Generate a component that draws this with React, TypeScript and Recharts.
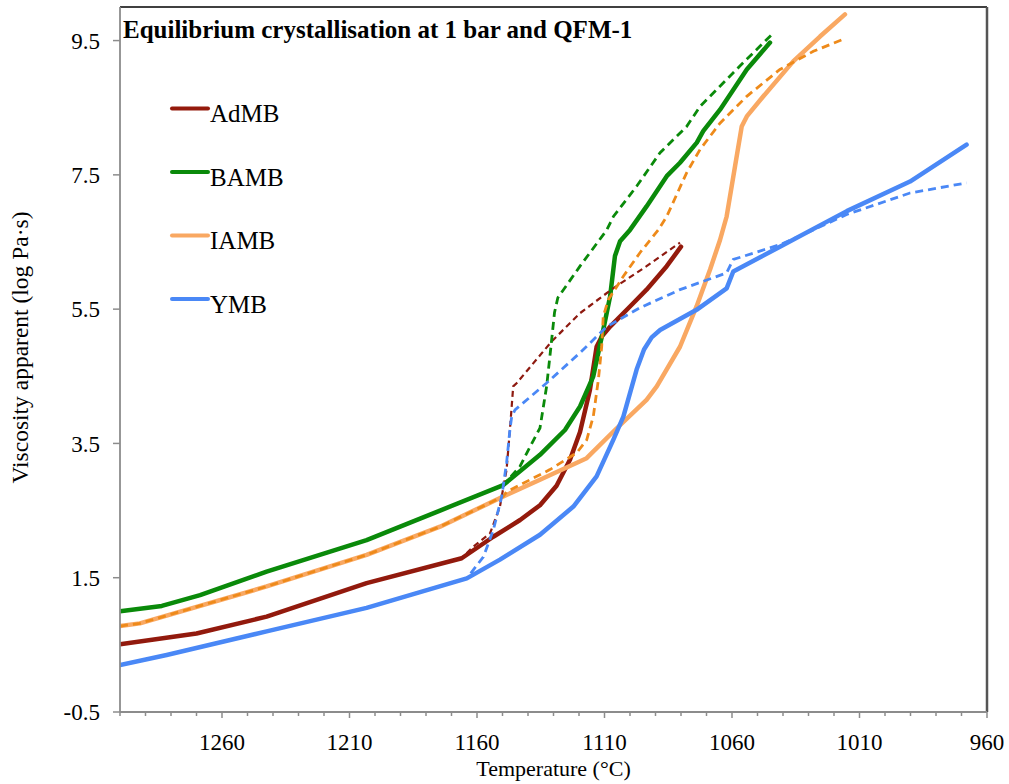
import React from "react";
import { LineChart, Line, XAxis, YAxis, ReferenceLine, Legend } from "recharts";

const FONT = "'Liberation Serif', 'Times New Roman', Times, serif";

type Pt = [number, number];

// [temperature °C, log apparent viscosity (Pa·s)] — solid = crystal-bearing melt
const admbSolid: Pt[] = [
  [1300, 0.51], [1270, 0.67], [1242.5, 0.92], [1203.3, 1.42], [1166, 1.79], [1153.6, 2.11],
  [1143.1, 2.36], [1135.3, 2.58], [1128.8, 2.87], [1123.5, 3.26], [1119.6, 3.67], [1115.7, 4.3],
  [1113.1, 4.94], [1111.1, 5.09], [1107.8, 5.24], [1100, 5.54], [1093.5, 5.79], [1085.6, 6.14],
  [1080, 6.43],
];
const admbDashed: Pt[] = [
  [1300, 0.51], [1270, 0.67], [1242.5, 0.92], [1203.3, 1.42], [1166, 1.79], [1161.5, 1.96],
  [1154.9, 2.16], [1151, 2.56], [1148.4, 3.11], [1147.1, 3.7], [1145.8, 4.35], [1144.4, 4.4],
  [1130.7, 5.02], [1119.6, 5.44], [1106.6, 5.81], [1093.5, 6.14], [1080.4, 6.49],
];

const bambSolid: Pt[] = [
  [1300, 1.0], [1283.6, 1.08], [1268.6, 1.24], [1242.5, 1.59], [1203.3, 2.06], [1174.5, 2.5],
  [1149.7, 2.88], [1135.3, 3.33], [1125.5, 3.7], [1119.6, 4.05], [1114.4, 4.5], [1110.5, 5.19],
  [1107.8, 5.69], [1105.9, 6.29], [1103.9, 6.51], [1100, 6.68], [1093.5, 7.03], [1085.6, 7.48],
  [1080.4, 7.68], [1073.8, 7.98], [1071.3, 8.15], [1064.7, 8.47], [1054.2, 9.07], [1045.1, 9.47],
];
const bambDashed: Pt[] = [
  [1300, 1.0], [1283.6, 1.08], [1268.6, 1.24], [1242.5, 1.59], [1203.3, 2.06], [1174.5, 2.5],
  [1149.7, 2.88], [1143.1, 3.16], [1139.2, 3.45], [1135.3, 3.73], [1132.7, 4.35], [1131.4, 4.8],
  [1129.6, 5.45], [1128.3, 5.67], [1119.6, 6.14], [1109.1, 6.68], [1106.5, 6.88], [1097.4, 7.33],
  [1088.2, 7.83], [1077.8, 8.22], [1072.5, 8.52], [1056.9, 9.12], [1044.4, 9.59],
];

const iambSolid: Pt[] = [
  [1300, 0.78], [1292.2, 0.82], [1242.5, 1.37], [1203.3, 1.84], [1174.5, 2.26], [1149.7, 2.71],
  [1135.3, 2.96], [1117, 3.28], [1105.9, 3.7], [1093.5, 4.15], [1089.5, 4.35], [1080.4, 4.94],
  [1073.9, 5.54], [1068.6, 6.09], [1064.7, 6.53], [1062.1, 6.88], [1058.8, 7.63], [1056.2, 8.22],
  [1054.2, 8.37], [1047.7, 8.67], [1036, 9.19], [1025.5, 9.56], [1015.7, 9.89],
];
const iambDashed: Pt[] = [
  [1300, 0.78], [1292.2, 0.82], [1242.5, 1.37], [1203.3, 1.84], [1174.5, 2.26], [1149.7, 2.71],
  [1148.4, 2.78], [1131.4, 3.11], [1120.9, 3.36], [1117, 3.55], [1114.4, 3.9], [1112.4, 4.45],
  [1111.1, 4.94], [1110.5, 5.39], [1108.5, 5.64], [1102.6, 5.99], [1096.1, 6.34], [1088.9, 6.68],
  [1085.6, 6.88], [1077.8, 7.53], [1072.5, 7.88], [1064.7, 8.27], [1054.2, 8.67], [1041.2, 9.07],
  [1028.1, 9.34], [1015.7, 9.53],
];

const ymbSolid: Pt[] = [
  [1300, 0.2], [1281.7, 0.35], [1242.5, 0.7], [1203.3, 1.05], [1164, 1.49], [1151, 1.77],
  [1135.3, 2.14], [1122.2, 2.56], [1113.1, 3.01], [1106.6, 3.55], [1102.6, 3.9], [1097.4, 4.6],
  [1094.5, 4.9], [1091.5, 5.08], [1088.2, 5.19], [1073.9, 5.49], [1062.1, 5.81], [1059.5, 6.06],
  [1041.2, 6.43], [1015, 6.96], [990.2, 7.4], [968, 7.95],
];
const ymbDashed: Pt[] = [
  [1300, 0.2], [1281.7, 0.35], [1242.5, 0.7], [1203.3, 1.05], [1164, 1.49], [1157.5, 1.81],
  [1153.6, 2.21], [1150.3, 2.71], [1148.4, 3.21], [1147.1, 3.7], [1146.4, 3.9], [1145.1, 4.0],
  [1132.7, 4.4], [1119.6, 4.85], [1109.1, 5.24], [1096.1, 5.52], [1080.4, 5.79], [1062.1, 6.04],
  [1059.5, 6.24], [1041.2, 6.46], [1028.1, 6.68], [1015, 6.91], [990.2, 7.23], [968, 7.38],
];

const seriesNames = ["AdMB", "BAMB", "IAMB", "YMB"];
const tempLabels = [1260, 1210, 1160, 1110, 1060, 1010, 960];
const viscTicks = [-0.5, 1.5, 3.5, 5.5, 7.5, 9.5];

// minor ticks every 10 °C across the whole axis
const tempTicks: number[] = [];
for (let t = 1300; t >= 960; t -= 10) tempTicks.push(t);

const COLORS: Record<string, { solid: string; dashed: string }> = {
  AdMB: { solid: "#941a0c", dashed: "#8e1a10" },
  BAMB: { solid: "#0a8a0a", dashed: "#0a8a0a" },
  IAMB: { solid: "#f9a862", dashed: "#ee8a1a" },
  YMB: { solid: "#4a88f6", dashed: "#4a88f6" },
};

const rows = (pts: Pt[]) => pts.map(([t, v]) => ({ t, v }));

const solidData: Record<string, Pt[]> = { AdMB: admbSolid, BAMB: bambSolid, IAMB: iambSolid, YMB: ymbSolid };
const dashedData: Record<string, Pt[]> = { AdMB: admbDashed, BAMB: bambDashed, IAMB: iambDashed, YMB: ymbDashed };

function TempTick({ x, y, payload }: any) {
  const major = tempLabels.includes(payload.value);
  return (
    <g>
      <line x1={x} x2={x} y1={y} y2={y + (major ? 6 : 4)} stroke="#8c8c8c" strokeWidth={1.5} />
      {major && (
        <text x={x} y={y + 38} textAnchor="middle" fontFamily={FONT} fontSize={23} fill="#000">
          {payload.value}
        </text>
      )}
    </g>
  );
}

function XTitle({ viewBox }: any) {
  return (
    <text x={viewBox.x + viewBox.width / 2} y={viewBox.y + viewBox.height - 8} textAnchor="middle"
      fontFamily={FONT} fontSize={22} fill="#000">
      Temperature (°C)
    </text>
  );
}

function YTitle({ viewBox }: any) {
  const cx = viewBox.x + 28;
  const cy = viewBox.y + viewBox.height / 2 - 12;
  return (
    <text transform={`translate(${cx},${cy}) rotate(-90)`} textAnchor="middle" fontFamily={FONT} fontSize={23.5} fill="#000">
      Viscosity apparent (log Pa·s)
    </text>
  );
}

function LegendBox() {
  return (
    <svg width={150} height={240}>
      {seriesNames.map((name, i) => (
        <g key={name}>
          <line x1={8} x2={44} y1={13.5 + i * 63.5} y2={13.5 + i * 63.5} stroke={COLORS[name].solid}
            strokeWidth={4} strokeLinecap="round" />
          <text x={46} y={27 + i * 63.5} fontFamily={FONT} fontSize={25} fill="#000">{name}</text>
        </g>
      ))}
    </svg>
  );
}

export default function App() {
  return (
    <div style={{ position: "absolute", left: 0, top: 0, width: 1009, height: 784, background: "#fff" }}>
      <LineChart width={1009} height={784} margin={{ top: 7, right: 22, bottom: 0, left: 0 }}>
        <XAxis dataKey="t" type="number" domain={[960, 1300]} reversed allowDataOverflow ticks={tempTicks}
          interval={0} tickSize={0} tickMargin={0} tick={<TempTick />} height={72}
          axisLine={{ stroke: "#8c8c8c", strokeWidth: 1.8 }} label={{ content: <XTitle /> }} />
        <YAxis type="number" domain={[-0.5, 10]} ticks={viscTicks} interval={0} width={120}
          tickSize={7} tickMargin={13} tickLine={{ stroke: "#8c8c8c", strokeWidth: 1.5 }}
          axisLine={{ stroke: "#8c8c8c", strokeWidth: 1.8 }}
          tick={{ fontFamily: FONT, fontSize: 23, fill: "#000" }} label={{ content: <YTitle /> }} />
        <ReferenceLine y={10} stroke="#000" strokeWidth={1.5} />
        <ReferenceLine x={960} stroke="#555" strokeWidth={2.5} />
        <Legend layout="vertical" align="center" verticalAlign="middle" content={<LegendBox />}
          wrapperStyle={{ left: 164, top: 95, width: 150 }} />
        {seriesNames.map((name) => (
          <Line key={`${name}-solid`} data={rows(solidData[name])} dataKey="v" name={name} type="linear"
            stroke={COLORS[name].solid} strokeWidth={4.5} strokeLinecap="round" strokeLinejoin="round"
            dot={false} activeDot={false} isAnimationActive={false} legendType="none" />
        ))}
        {seriesNames.map((name) => (
          <Line key={`${name}-dashed`} data={rows(dashedData[name])} dataKey="v" name={`${name} dashed`}
            type="linear" stroke={COLORS[name].dashed} strokeWidth={name === "AdMB" ? 2.2 : 2.8}
            strokeDasharray={name === "AdMB" ? "6 4" : "8 5"} dot={false} activeDot={false}
            isAnimationActive={false} legendType="none" />
        ))}
      </LineChart>
      <svg width={1009} height={60} style={{ position: "absolute", left: 0, top: 0, pointerEvents: "none" }}>
        <text x={123} y={38} fontFamily={FONT} fontWeight="bold" fontSize={25} fill="#000">
          Equilibrium crystallisation at 1 bar and QFM-1
        </text>
      </svg>
    </div>
  );
}
